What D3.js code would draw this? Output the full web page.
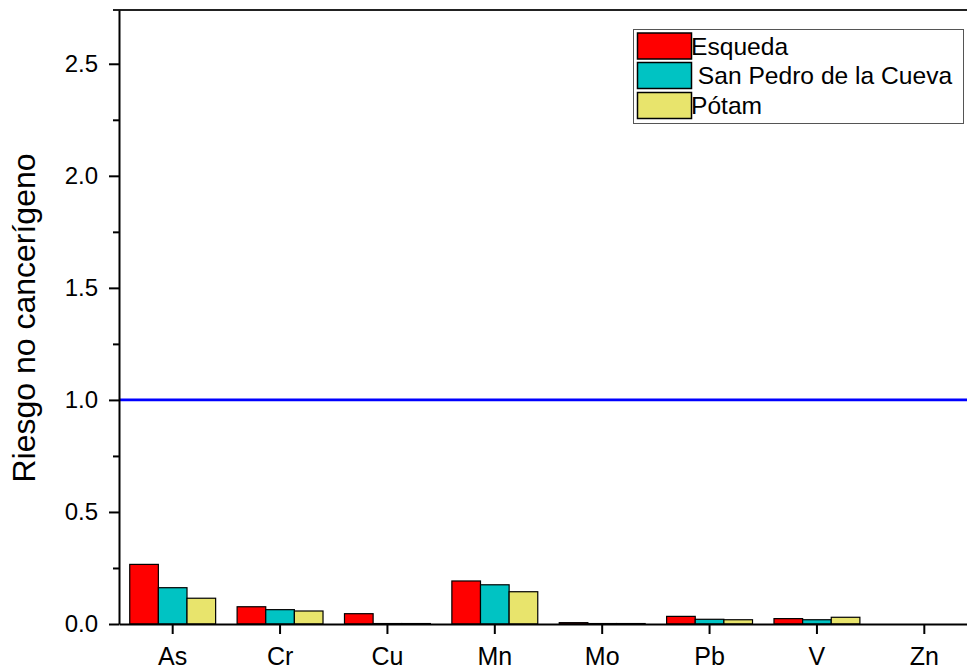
<!DOCTYPE html>
<html>
<head>
<meta charset="utf-8">
<script src="https://cdn.jsdelivr.net/npm/d3@7"></script>
<style>
  html, body { margin: 0; padding: 0; background: #fff; }
  svg { display: block; font-family: "Liberation Sans", Arial, sans-serif; }
</style>
</head>
<body>
<svg id="chart" width="967" height="669"></svg>
<script>
// Metals on the x axis
const metals = ["As", "Cr", "Cu", "Mn", "Mo", "Pb", "V", "Zn"];
// Sites (one bar per site in each group)
const sites = ["Esqueda", "San Pedro de la Cueva", "Pótam"];
const siteColors = ["#ff0000", "#00c3c3", "#e8e46c"];
// Non-carcinogenic risk (hazard quotient) per site, in metal order
const esqueda   = [0.266, 0.077, 0.046, 0.192, 0.006, 0.034, 0.024, 0];
const sanPedro  = [0.162, 0.064, 0.002, 0.175, 0.002, 0.021, 0.019, 0];
const potam     = [0.115, 0.058, 0.002, 0.144, 0.002, 0.019, 0.030, 0];
const seriesValues = [esqueda, sanPedro, potam];
// Y axis ticks
const majorTicks = [0, 0.5, 1.0, 1.5, 2.0, 2.5];
const minorTicks = [0.25, 0.75, 1.25, 1.75, 2.25];
const threshold = 1.0;
const yTitle = "Riesgo no cancerígeno";

const svg = d3.select("#chart");
const W = 967;
const plotLeft = 119, plotBottom = 624, plotTop = 10;

const x0 = d3.scaleBand().domain(metals).range([plotLeft, 978]).paddingInner(0.2).paddingOuter(0.1);
const x1 = d3.scaleBand().domain(sites).range([0, x0.bandwidth()]).padding(0);
const y = d3.scaleLinear().domain([0, 2.74]).range([plotBottom, plotTop]);

// Bars
const groups = svg.append("g").selectAll("g")
  .data(metals)
  .join("g")
  .attr("transform", d => `translate(${x0(d)},0)`);

groups.selectAll("rect")
  .data((m, i) => sites.map((s, k) => ({ site: s, k, v: seriesValues[k][i] })).filter(d => d.v > 0))
  .join("rect")
  .attr("x", d => x1(d.site))
  .attr("width", x1.bandwidth())
  .attr("y", d => y(d.v))
  .attr("height", d => y(0) - y(d.v))
  .attr("fill", d => siteColors[d.k])
  .attr("stroke", "#000")
  .attr("stroke-width", 1.2);

// Threshold line at HQ = 1
svg.append("line")
  .attr("x1", plotLeft).attr("x2", W)
  .attr("y1", y(threshold)).attr("y2", y(threshold))
  .attr("stroke", "#0000ff")
  .attr("stroke-width", 2.6);

// Top frame line
svg.append("line")
  .attr("x1", 113).attr("x2", W)
  .attr("y1", plotTop).attr("y2", plotTop)
  .attr("stroke", "#222")
  .attr("stroke-width", 2);

// Y axis: major ticks with labels, minor ticks without
const yAxis = svg.append("g")
  .attr("transform", `translate(${plotLeft},0)`)
  .call(d3.axisLeft(y).tickValues(majorTicks).tickFormat(d3.format(".1f"))
    .tickSize(10).tickSizeOuter(0).tickPadding(11));
yAxis.selectAll("text").attr("font-size", 24).attr("fill", "#000")
  .style("font-family", "'Liberation Sans', Arial, sans-serif");

const yMinor = svg.append("g")
  .attr("transform", `translate(${plotLeft},0)`)
  .call(d3.axisLeft(y).tickValues(minorTicks).tickFormat("").tickSize(6).tickSizeOuter(0));
yMinor.select(".domain").remove();

// X axis
const xAxis = svg.append("g")
  .attr("transform", `translate(0,${plotBottom})`)
  .call(d3.axisBottom(x0).tickSize(10).tickSizeOuter(0).tickPadding(13));
xAxis.selectAll("text").attr("font-size", 25).attr("fill", "#000")
  .style("font-family", "'Liberation Sans', Arial, sans-serif");

svg.selectAll(".domain, .tick line").attr("stroke", "#000").attr("stroke-width", 2);

// Y axis title
svg.append("text")
  .attr("transform", "translate(35,318) rotate(-90)")
  .attr("text-anchor", "middle")
  .attr("font-size", 32)
  .attr("fill", "#000")
  .text(yTitle);

// Legend
const legend = svg.append("g");
legend.append("rect")
  .attr("x", 633.5).attr("y", 29.5).attr("width", 330).attr("height", 94)
  .attr("fill", "#fff").attr("stroke", "#555").attr("stroke-width", 1);
const swatchY = [33, 62.5, 92.5];
const labelY = [55, 84, 114];
const labelText = ["Esqueda", " San Pedro de la Cueva", "Pótam"];
sites.forEach((s, k) => {
  legend.append("rect")
    .attr("x", 637.5).attr("y", swatchY[k]).attr("width", 54).attr("height", 26)
    .attr("fill", siteColors[k]).attr("stroke", "#000").attr("stroke-width", 1.5);
  legend.append("text")
    .attr("x", 691).attr("y", labelY[k])
    .attr("font-size", 24.6).attr("fill", "#000")
    .style("white-space", "pre")
    .text(labelText[k]);
});
</script>
</body>
</html>
